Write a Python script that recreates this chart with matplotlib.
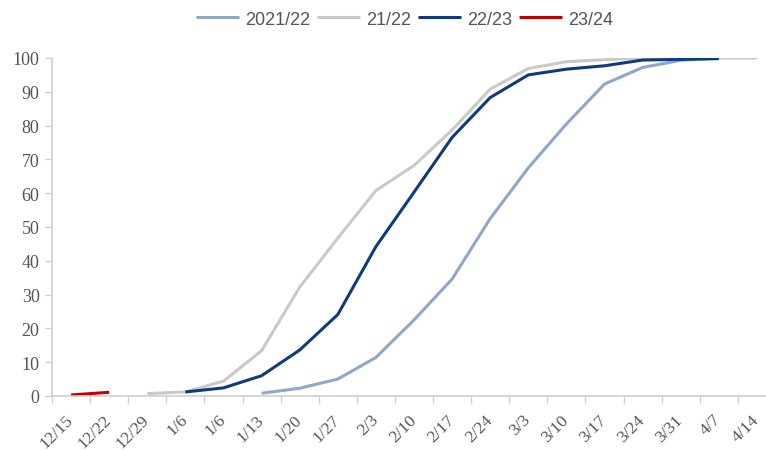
import matplotlib
matplotlib.use("Agg")
import matplotlib.pyplot as plt
import numpy as np

weeks = ["12/15", "12/22", "12/29", "1/6", "1/6", "1/13", "1/20", "1/27", "2/3",
         "2/10", "2/17", "2/24", "3/3", "3/10", "3/17", "3/24", "3/31", "4/7", "4/14"]

nan = np.nan
s2021_22 = [nan, nan, nan, nan, nan, 0.8, 2.3, 5.0, 11.4, 22.5, 34.6, 52.5, 67.5,
            80.5, 92.3, 97.2, 99.3, 100, nan]
s21_22 = [nan, nan, 0.7, 1.2, 4.4, 13.4, 32.2, 46.7, 60.8, 68.2, 78.7, 90.8, 96.9,
          98.9, 99.5, 100, 100, 100, 100]
s22_23 = [nan, nan, nan, 1.2, 2.4, 6.0, 13.6, 24.1, 44.2, 60.3, 76.5, 88.3, 95.0,
          96.7, 97.7, 99.4, 99.6, 99.8, nan]
s23_24 = [0.3, 1.1, nan, nan, nan, nan, nan, nan, nan, nan, nan, nan, nan,
          nan, nan, nan, nan, nan, nan]

series = [
    ("2021/22", s2021_22, "#8FA7C9"),
    ("21/22", s21_22, "#C9C9C9"),
    ("22/23", s22_23, "#0E3B80"),
    ("23/24", s23_24, "#C00000"),
]

fig = plt.figure(figsize=(7.66, 4.52), dpi=100)
ax = fig.add_axes([52 / 766, 55 / 452, 724 / 766, 338 / 452])

x = np.arange(len(weeks))
for name, vals, col in series:
    ax.plot(x, vals, color=col, linewidth=2.2, label=name, solid_capstyle="butt")

ax.set_xlim(-0.5, len(weeks) - 0.5)
ax.set_ylim(0, 100)
ax.set_yticks(range(0, 101, 10))

# labels sit a touch left of the category centre, like the original
ax.set_xticks(x - 0.15)
ax.set_xticklabels(weeks, rotation=45, ha="right", rotation_mode="anchor",
                   family="Liberation Serif", fontsize=12.5, color="#555555")
ax.set_xticks(np.arange(-0.5, len(weeks), 1), minor=True)
ax.tick_params(axis="x", which="major", length=0, pad=11)
ax.tick_params(axis="x", which="minor", length=5, color="#d0d0d0", width=1)
ax.tick_params(axis="y", length=5, color="#d0d0d0", width=1, pad=4)
for lab in ax.get_yticklabels():
    lab.set_family("Liberation Serif")
    lab.set_fontsize(13)
    lab.set_color("#555555")

for side in ("top", "right"):
    ax.spines[side].set_visible(False)
for side in ("left", "bottom"):
    ax.spines[side].set_color("#d0d0d0")
    ax.spines[side].set_linewidth(1.2)

fig.legend(loc="upper center", bbox_to_anchor=(0.528, 1.01), ncol=4, frameon=False,
           prop={"family": "Liberation Sans", "size": 13}, labelcolor="#555555",
           handlelength=2.4, handletextpad=0.3, columnspacing=0.4)

fig.savefig("out.png", dpi=100)
